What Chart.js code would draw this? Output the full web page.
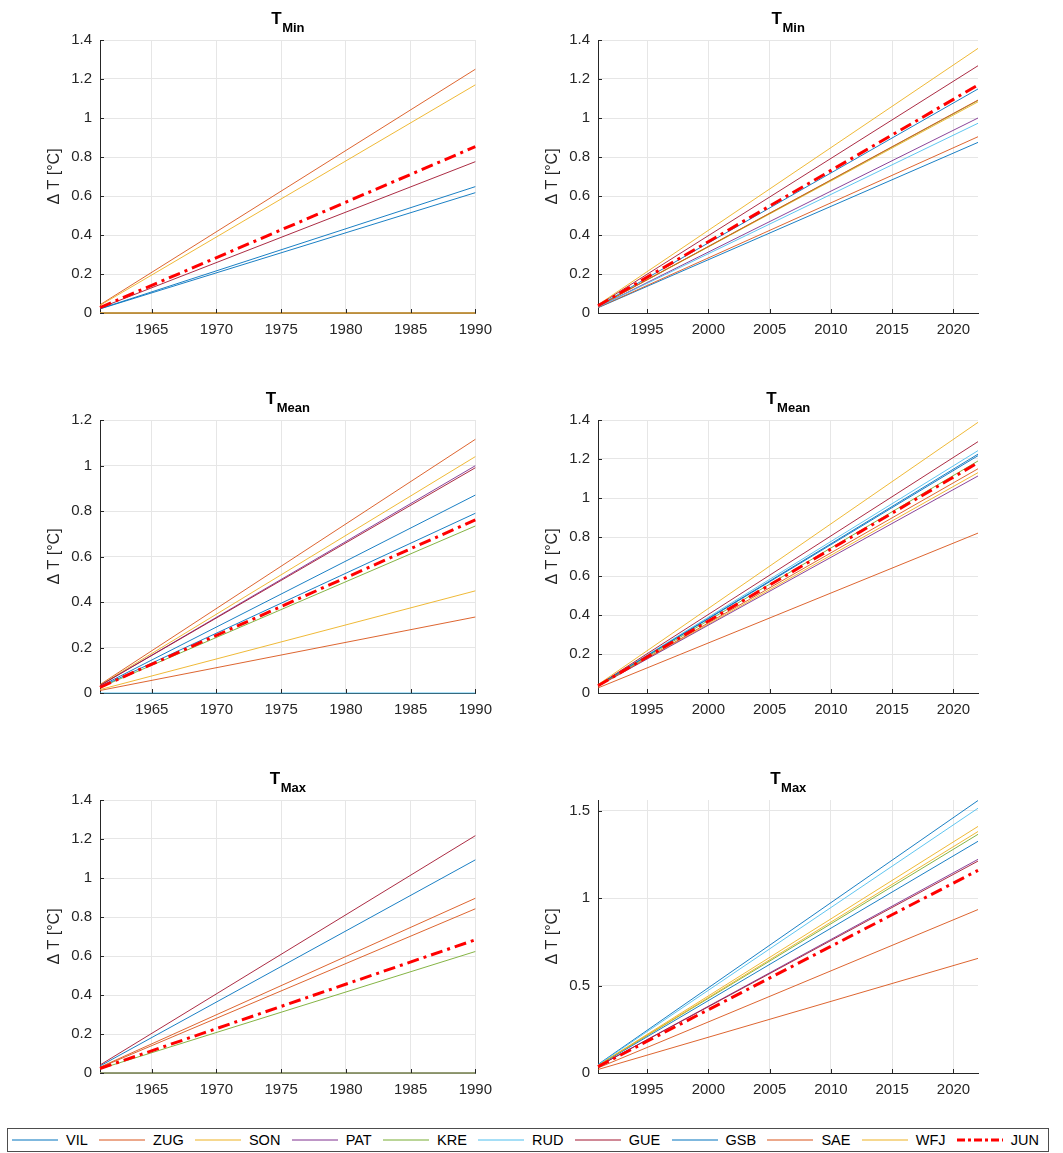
<!DOCTYPE html>
<html>
<head>
<meta charset="utf-8">
<script src="https://cdn.jsdelivr.net/npm/chart.js@4.4.1/dist/chart.umd.min.js"></script>
<style>
  body { margin: 0; background: #fff; width: 1063px; height: 1153px; position: relative; overflow: hidden;
         font-family: "Liberation Sans", Arial, sans-serif; }
  canvas.panel { position: absolute; }
  #legend { position: absolute; left: 7px; top: 1128px; width: 1042px; height: 24px; box-sizing: border-box;
            border: 1px solid #4d4d4d; display: flex; align-items: center; justify-content: space-between;
            padding: 0 9px 0 4px; font-size: 14.5px; color: #000; }
  #legend .item { display: flex; align-items: center; }
  #legend svg { margin-right: 8px; }
</style>
</head>
<body>
<canvas id="p0" class="panel" width="500" height="345" style="left:0;top:0"></canvas>
<canvas id="p1" class="panel" width="502" height="345" style="left:498px;top:0"></canvas>
<canvas id="p2" class="panel" width="500" height="345" style="left:0;top:380px"></canvas>
<canvas id="p3" class="panel" width="502" height="345" style="left:498px;top:380px"></canvas>
<canvas id="p4" class="panel" width="500" height="345" style="left:0;top:760px"></canvas>
<canvas id="p5" class="panel" width="502" height="345" style="left:498px;top:760px"></canvas>
<div id="legend"></div>
<script>
const stations = ['VIL', 'ZUG', 'SON', 'PAT', 'KRE', 'RUD', 'GUE', 'GSB', 'SAE', 'WFJ', 'JUN'];
const lineColors = ['#0072BD', '#D95319', '#EDB120', '#7E2F8E', '#77AC30', '#4DBEEE', '#A2142F',
                    '#0072BD', '#D95319', '#EDB120', '#FF0000'];

const yearsEarly = [1961, 1990];
const yearsLate = [1991, 2022];

// trend value [first year, last year] per station (same order as stations)
const tminEarly  = [[0.022, 0.648], [0.042, 1.25], [0.039, 1.17], [0, 0], [0, 0], [0, 0],
                    [0.026, 0.776], [0.021, 0.617], [0, 0], [0, 0], [0.028, 0.853]];
const tminLate   = [[0.027, 0.875], [0.028, 0.904], [0.034, 1.083], [0.031, 1.0], [0.034, 1.09], [0.030, 0.973],
                    [0.040, 1.268], [0.036, 1.149], [0.034, 1.092], [0.042, 1.357], [0.037, 1.169]];
const tmeanEarly = [[0.029, 0.87], [0.037, 1.115], [0.035, 1.039], [0.033, 0.999], [0.024, 0.734], [0, 0],
                    [0.033, 0.99], [0.026, 0.79], [0.011, 0.334], [0.015, 0.449], [0.025, 0.761]];
const tmeanLate  = [[0.038, 1.217], [0.026, 0.82], [0.035, 1.13], [0.035, 1.113], [0.037, 1.19], [0.039, 1.243],
                    [0.040, 1.289], [0.038, 1.225], [0.036, 1.15], [0.043, 1.388], [0.037, 1.181]];
const tmaxEarly  = [[0.036, 1.093], [0.030, 0.896], [0, 0], [0, 0], [0.021, 0.623], [0, 0],
                    [0.041, 1.217], [0, 0], [0.028, 0.842], [0, 0], [0.023, 0.683]];
const tmaxLate   = [[0.049, 1.557], [0.029, 0.934], [0.044, 1.409], [0.038, 1.221], [0.043, 1.364], [0.047, 1.513],
                    [0.038, 1.211], [0.041, 1.324], [0.020, 0.655], [0.043, 1.38], [0.036, 1.158]];

const panels = [
  { id: 'p0', sub: 'Min',  years: yearsEarly, values: tminEarly,  yMax: 1.4,  yStep: 0.2 },
  { id: 'p1', sub: 'Min',  years: yearsLate,  values: tminLate,   yMax: 1.4,  yStep: 0.2 },
  { id: 'p2', sub: 'Mean', years: yearsEarly, values: tmeanEarly, yMax: 1.2,  yStep: 0.2 },
  { id: 'p3', sub: 'Mean', years: yearsLate,  values: tmeanLate,  yMax: 1.4,  yStep: 0.2 },
  { id: 'p4', sub: 'Max',  years: yearsEarly, values: tmaxEarly,  yMax: 1.4,  yStep: 0.2 },
  { id: 'p5', sub: 'Max',  years: yearsLate,  values: tmaxLate,   yMax: 1.56, yStep: 0.5 }
];

const FONT = '"Liberation Sans", Arial, sans-serif';
const AXIS = '#262626';

// bold T with subscript, plus MATLAB style inward tick marks
const matlabBits = {
  id: 'matlabBits',
  afterDraw(chart, args, opts) {
    const { ctx, chartArea, scales } = chart;
    ctx.save();
    ctx.strokeStyle = AXIS;
    ctx.lineWidth = 1;
    ctx.beginPath();
    scales.x.ticks.forEach(t => {
      const px = Math.round(scales.x.getPixelForValue(t.value)) + 0.5;
      ctx.moveTo(px, chartArea.bottom); ctx.lineTo(px, chartArea.bottom - 4);
    });
    scales.y.ticks.forEach(t => {
      const py = Math.round(scales.y.getPixelForValue(t.value)) + 0.5;
      ctx.moveTo(chartArea.left, py); ctx.lineTo(chartArea.left + 4, py);
    });
    ctx.stroke();

    ctx.fillStyle = '#000';
    ctx.font = 'bold 17px ' + FONT;
    const wT = ctx.measureText('T').width;
    ctx.font = 'bold 13px ' + FONT;
    const wS = ctx.measureText(opts.sub).width;
    const x0 = (chartArea.left + chartArea.right) / 2 - (wT + wS) / 2;
    ctx.font = 'bold 17px ' + FONT;
    ctx.fillText('T', x0, chartArea.top - 16);
    ctx.font = 'bold 13px ' + FONT;
    ctx.fillText(opts.sub, x0 + wT + 0.5, chartArea.top - 8);
    ctx.restore();
  }
};

panels.forEach(p => {
  const datasets = stations.map((name, i) => ({
    label: name,
    data: [{ x: p.years[0], y: p.values[i][0] }, { x: p.years[1], y: p.values[i][1] }],
    borderColor: lineColors[i],
    borderWidth: name === 'JUN' ? 3 : 0.9,
    borderDash: name === 'JUN' ? [12, 5, 3, 5] : [],
    pointRadius: 0,
    tension: 0,
    clip: 4,
    order: stations.length - i
  }));

  new Chart(document.getElementById(p.id), {
    type: 'line',
    data: { datasets },
    options: {
      responsive: false,
      animation: false,
      layout: { padding: { top: 40, right: 22, left: 0, bottom: 0 } },
      plugins: { legend: { display: false }, tooltip: { enabled: false }, matlabBits: { sub: p.sub } },
      scales: {
        x: {
          type: 'linear', min: p.years[0], max: p.years[1],
          afterFit: s => { s.height = 32; },
          grid: { color: '#e6e6e6', drawTicks: false },
          border: { color: AXIS, width: 1 },
          ticks: { stepSize: 5, includeBounds: false, padding: 8, color: AXIS, font: { family: FONT, size: 15 },
                   maxRotation: 0, callback: v => String(v) }
        },
        y: {
          type: 'linear', min: 0, max: p.yMax,
          afterFit: s => { s.width = 100; },
          grid: { color: '#e6e6e6', drawTicks: false },
          border: { color: AXIS, width: 1 },
          ticks: { stepSize: p.yStep, includeBounds: false, padding: 8, color: AXIS, font: { family: FONT, size: 15 },
                   callback: v => String(Math.round(v * 100) / 100) },
          title: { display: true, text: 'Δ T [°C]', color: AXIS, font: { family: FONT, size: 16 },
                   padding: { top: 45, bottom: 0 } }
        }
      }
    },
    plugins: [matlabBits]
  });
});

// legend built from the same station list
const legend = document.getElementById('legend');
stations.forEach((name, i) => {
  const item = document.createElement('div');
  item.className = 'item';
  const jun = name === 'JUN';
  item.innerHTML = '<svg width="46" height="10"><line x1="0" y1="5" x2="46" y2="5" stroke="' + lineColors[i] +
    '" stroke-width="' + (jun ? 3 : 1) + '"' + (jun ? ' stroke-dasharray="8,3,3,3"' : '') + '/></svg><span>' + name + '</span>';
  legend.appendChild(item);
});
</script>
</body>
</html>
